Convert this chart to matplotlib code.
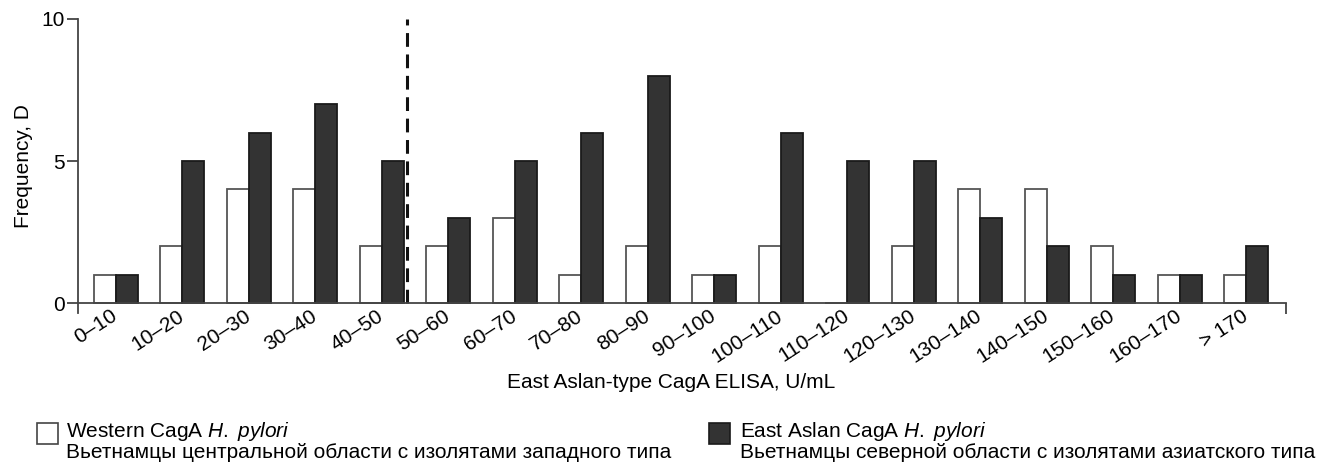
import numpy as np
import matplotlib.pyplot as plt
from matplotlib.patches import Rectangle

plt.rcParams['font.family'] = ['Liberation Sans', 'DejaVu Sans']
plt.rcParams['mathtext.fontset'] = 'custom'
plt.rcParams['mathtext.rm'] = 'Liberation Sans'
plt.rcParams['mathtext.it'] = 'Liberation Sans:italic'

# data
bins = ['0–10', '10–20', '20–30', '30–40', '40–50', '50–60', '60–70', '70–80', '80–90',
        '90–100', '100–110', '110–120', '120–130', '130–140', '140–150', '150–160',
        '160–170', '> 170']
western = [1, 2, 4, 4, 2, 2, 3, 1, 2, 1, 2, 0, 2, 4, 4, 2, 1, 1]
east_asian = [1, 5, 6, 7, 5, 3, 5, 6, 8, 1, 6, 5, 5, 3, 2, 1, 1, 2]
cutoff = 4.38  # dashed line between 40-50 and 50-60
west_label = 'Western CagA $\\mathit{H.\\ pylori}$\nВьетнамцы центральной области с изолятами западного типа'
east_label = 'East Aslan CagA $\\mathit{H.\\ pylori}$\nВьетнамцы северной области с изолятами азиатского типа'

fs = 15
W, H = 1317, 463
fig = plt.figure(figsize=(W / 100, H / 100), dpi=100)
ax = fig.add_axes([78 / W, 1 - 313 / H, (1286 - 78) / W, (313 - 19) / H])

x = np.arange(len(bins))
w = 0.33
ax.bar(x - w / 2, western, width=w, color='white', edgecolor='#555555', linewidth=1.3)
ax.bar(x + w / 2, east_asian, width=w, color='#333333', edgecolor='#1a1a1a', linewidth=1.3)
ax.vlines(cutoff, 0, 10, color='#111111', linestyles=[(0, (4.5, 2.5))], linewidth=2.2)

ax.set_xlim(-0.57, 17.6)
ax.set_ylim(-0.35, 10)
ax.spines['top'].set_visible(False)
ax.spines['right'].set_visible(False)
ax.spines['bottom'].set_position(('data', 0))
for s in ['left', 'bottom']:
    ax.spines[s].set_color('#444444')
    ax.spines[s].set_linewidth(1.3)

ax.set_yticks([0, 5, 10])
ax.tick_params(axis='y', length=8, width=1.3, color='#444444', labelsize=fs, pad=1.5)
ax.set_xticks(x)
ax.set_xticklabels(bins, rotation=33, ha='right', va='center', rotation_mode='anchor', fontsize=fs)
ax.tick_params(axis='x', length=0, pad=8)
ax.set_xticks([17.6], minor=True)
ax.tick_params(axis='x', which='minor', length=8, width=1.3, color='#444444')
ax.set_ylabel('Frequency, D', fontsize=fs, labelpad=6)

fig.text(671 / W, 1 - 383 / H, 'East Aslan-type CagA ELISA, U/mL', ha='center', va='center', fontsize=fs)

# legend
fig.add_artist(Rectangle((37 / W, 1 - 444 / H), 21 / W, 21 / H, transform=fig.transFigure,
                         facecolor='white', edgecolor='#444444', linewidth=1.2))
fig.add_artist(Rectangle((709 / W, 1 - 444 / H), 21 / W, 21 / H, transform=fig.transFigure,
                         facecolor='#333333', edgecolor='#1a1a1a', linewidth=1.2))
fig.text(66 / W, 0.002, west_label, va='bottom', fontsize=fs, linespacing=0.98)
fig.text(740 / W, 0.002, east_label, va='bottom', fontsize=fs, linespacing=0.98)

plt.savefig('out.png', dpi=100)
